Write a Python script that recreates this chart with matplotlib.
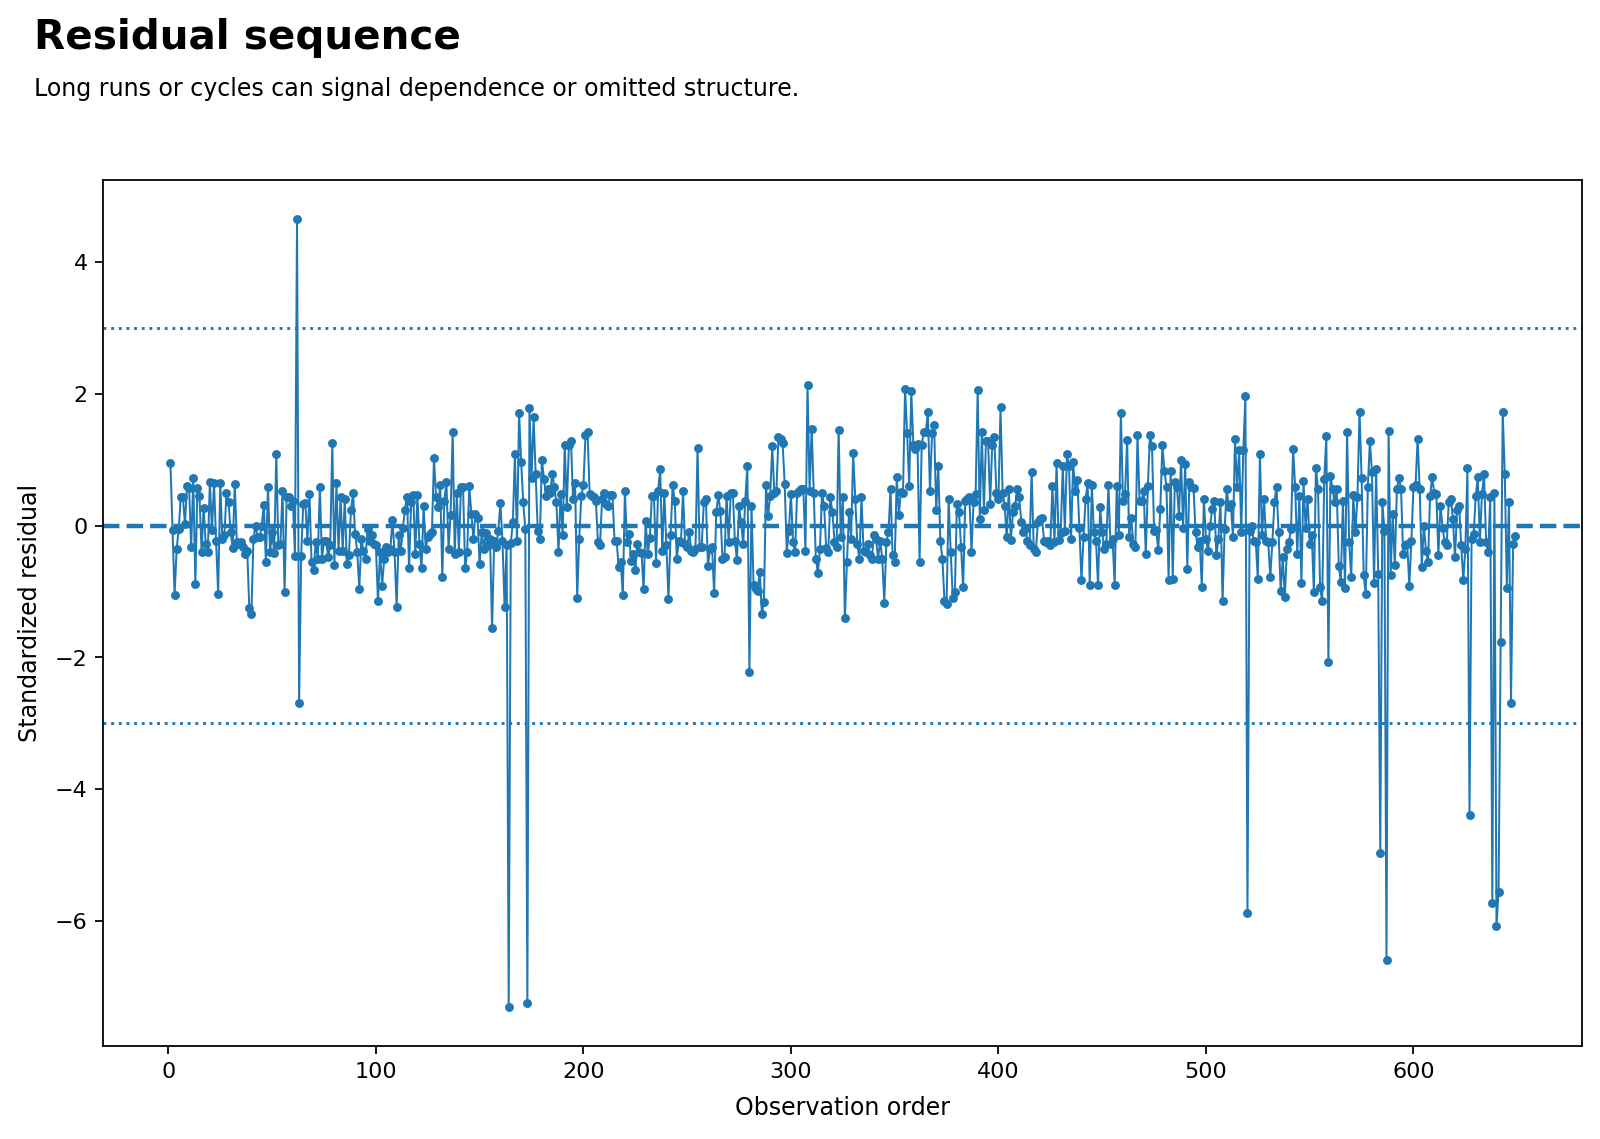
import numpy as np
import matplotlib
matplotlib.use('Agg')
import matplotlib.pyplot as plt

# standardized residuals in observation order (1..649)
resid = [
    0.95, -0.06, -1.06, -0.35, -0.05, 0.44, 0.44, 0.02, 0.6, 0.57,
    -0.33, 0.72, -0.88, 0.57, 0.45, -0.4, 0.27, -0.28, -0.4, 0.66,
    -0.07, 0.65, -0.24, -1.04, 0.65, -0.2, -0.15, 0.5, 0.36, -0.1,
    -0.34, 0.63, -0.25, -0.28, -0.25, -0.32, -0.43, -0.38, -1.25, -1.34,
    -0.2, 0.0, -0.18, -0.18, 0.0, 0.31, -0.56, 0.59, -0.4, -0.1,
    -0.41, 1.09, -0.3, -0.28, 0.52, -1.01, 0.44, 0.44, 0.3, 0.38,
    -0.46, 4.65, -2.69, -0.46, 0.33, 0.34, -0.23, 0.48, -0.56, -0.67,
    -0.25, -0.5, 0.59, -0.5, -0.23, -0.23, -0.48, -0.3, 1.25, -0.6,
    0.65, -0.39, 0.43, -0.39, 0.41, -0.58, -0.45, 0.24, 0.49, -0.13,
    -0.4, -0.96, -0.2, -0.38, -0.5, -0.05, -0.23, -0.15, -0.28, -0.3,
    -1.15, -0.4, -0.91, -0.51, -0.33, -0.4, -0.35, 0.09, -0.4, -1.23,
    -0.15, -0.39, -0.03, 0.24, 0.44, -0.65, 0.35, 0.47, -0.43, 0.46,
    -0.28, -0.65, 0.29, -0.35, -0.18, -0.13, -0.1, 1.02, 0.43, 0.28,
    0.62, -0.78, 0.38, 0.66, -0.35, 0.16, 1.42, -0.43, 0.5, -0.4,
    0.58, 0.59, -0.65, -0.4, 0.6, 0.18, -0.2, 0.18, 0.11, -0.58,
    -0.1, -0.35, -0.11, -0.3, -0.2, -1.56, -0.23, -0.33, -0.08, 0.34,
    -0.23, -1.23, -0.3, -7.3, -0.27, 0.05, 1.09, -0.23, 1.71, 0.97,
    0.35, -0.05, -7.25, 1.78, 0.72, 1.64, 0.78, -0.08, -0.2, 1.0,
    0.71, 0.45, 0.56, 0.5, 0.79, 0.58, 0.35, -0.4, 0.48, -0.15,
    1.22, 0.28, 1.22, 1.29, 0.4, 0.65, -1.1, -0.2, 0.45, 0.61,
    1.37, 1.42, 0.48, 0.45, 0.43, 0.38, -0.25, -0.3, 0.4, 0.5,
    0.33, 0.3, 0.46, 0.47, -0.23, -0.23, -0.63, -0.55, -1.06, 0.52,
    -0.25, -0.13, -0.54, -0.43, -0.68, -0.28, -0.4, -0.41, -0.97, 0.07,
    -0.43, -0.19, 0.45, 0.45, -0.57, 0.53, 0.86, -0.39, 0.5, -0.3,
    -1.12, -0.15, 0.62, 0.38, -0.5, -0.23, -0.25, 0.52, -0.28, -0.33,
    -0.1, -0.38, -0.4, -0.35, 1.17, -0.33, -0.32, 0.35, 0.41, -0.61,
    -0.36, -0.33, -1.03, 0.2, 0.46, 0.22, -0.5, -0.48, 0.45, -0.25,
    0.5, 0.5, -0.23, -0.52, 0.3, 0.05, -0.28, 0.38, 0.91, -2.22,
    0.3, -0.9, -0.96, -0.99, -0.7, -1.34, -1.16, 0.61, 0.15, 0.45,
    1.2, 0.5, 0.53, 1.34, 1.31, 1.25, 0.63, -0.41, -0.08, 0.48,
    -0.25, -0.4, 0.5, 0.52, 0.55, 0.55, -0.38, 2.14, 0.53, 1.47,
    0.5, -0.5, -0.72, -0.35, 0.5, 0.3, -0.34, -0.4, 0.43, 0.2,
    -0.25, -0.33, 1.45, -0.18, 0.43, -1.41, -0.55, 0.21, -0.2, 1.1,
    0.41, -0.28, -0.5, 0.43, -0.38, -0.4, -0.28, -0.45, -0.5, -0.14,
    -0.2, -0.5, -0.23, -0.5, -1.17, -0.25, -0.1, 0.55, -0.45, -0.56,
    0.74, 0.16, 0.51, 0.5, 2.07, 1.4, 0.6, 2.04, 1.22, 1.16,
    1.24, -0.56, 1.22, 1.42, 1.42, 1.72, 0.53, 1.4, 1.53, 0.23,
    0.9, -0.23, -0.5, -1.15, -1.19, 0.4, -0.4, -1.1, -1.01, 0.33,
    0.2, -0.33, -0.94, 0.38, 0.4, 0.43, -0.4, 0.35, 0.48, 2.06,
    0.1, 1.42, 0.23, 1.29, 1.29, 0.33, 1.22, 1.34, 0.5, 0.4,
    1.8, 0.5, 0.3, -0.18, 0.55, -0.22, 0.2, 0.3, 0.55, 0.43,
    0.06, -0.1, -0.05, -0.23, -0.3, 0.81, -0.35, -0.4, 0.05, 0.1,
    0.12, -0.24, -0.25, -0.24, -0.3, 0.6, -0.25, 0.95, -0.22, -0.11,
    0.9, -0.08, 1.08, 0.9, -0.2, 0.96, 0.52, 0.69, -0.03, -0.83,
    -0.18, 0.4, 0.65, -0.9, 0.62, -0.1, -0.23, -0.9, 0.28, -0.1,
    -0.36, -0.28, 0.62, -0.28, -0.2, -0.9, 0.6, -0.15, 1.71, 0.38,
    0.48, 1.3, -0.18, 0.12, -0.28, -0.33, 1.38, 0.38, 0.38, 0.52,
    -0.43, 0.6, 1.38, 1.2, -0.08, -0.06, -0.37, 0.25, 1.22, 0.83,
    0.58, -0.82, 0.83, -0.81, 0.66, 0.58, 0.15, 1.0, -0.03, 0.94,
    -0.66, 0.66, 0.58, 0.57, -0.1, -0.33, -0.24, -0.93, 0.4, -0.2,
    -0.38, 0.0, 0.25, 0.38, -0.45, -0.2, 0.35, -1.14, -0.05, 0.56,
    0.28, 0.33, -0.18, 1.31, 0.58, 1.14, -0.1, 1.14, 1.96, -5.88,
    -0.08, 0.0, -0.24, -0.25, -0.81, 1.09, -0.15, 0.4, -0.23, -0.25,
    -0.78, -0.25, 0.36, 0.59, -0.1, -1.0, -0.48, -1.09, -0.36, -0.25,
    -0.05, 1.16, 0.58, -0.43, 0.45, -0.87, 0.68, -0.03, 0.4, -0.28,
    -0.15, -1.01, 0.88, 0.55, -0.94, -1.15, 0.7, 1.36, -2.07, 0.75,
    0.56, 0.35, 0.56, -0.61, -0.85, 0.38, -0.95, 1.42, -0.25, -0.78,
    0.46, -0.1, 0.43, 1.73, 0.72, -0.75, -1.04, 0.59, 1.28, 0.81,
    -0.87, 0.86, -0.73, -4.97, 0.35, -0.08, -6.6, 1.44, -0.75, 0.18,
    -0.6, 0.56, 0.72, 0.56, -0.43, -0.3, -0.28, -0.92, -0.23, 0.59,
    0.61, 1.32, 0.55, -0.63, 0.0, -0.38, -0.55, 0.45, 0.73, 0.5,
    0.48, -0.44, 0.3, -0.03, -0.25, -0.3, 0.36, 0.41, 0.1, -0.48,
    0.23, 0.3, -0.3, -0.83, -0.35, 0.87, -4.4, -0.2, -0.13, 0.45,
    0.73, -0.25, 0.48, 0.78, -0.25, -0.4, 0.43, -5.73, 0.5, -6.08,
    -5.56, -1.76, 1.73, 0.78, -0.95, 0.36, -2.69, -0.28, -0.16,
]
order = np.arange(1, len(resid) + 1)
bands = [3, -3]

color = '#1f77b4'

fig, ax = plt.subplots(figsize=(10, 7.12), dpi=160)
fig.subplots_adjust(left=0.0645, right=0.989, top=0.842, bottom=0.0817)

ax.plot(order, resid, marker='o', markersize=3, linewidth=0.9, color=color)
ax.axhline(0, color=color, linestyle='--', linewidth=2)
for b in bands:
    ax.axhline(b, color=color, linestyle=':', linewidth=1.3)

ax.set_xlabel('Observation order', fontsize=10.7, labelpad=6.5)
ax.set_ylabel('Standardized residual', fontsize=10.7, labelpad=6)

fig.text(0.021, 0.957, 'Residual sequence', fontsize=18.25, fontweight='bold',
         ha='left', va='baseline')
fig.text(0.021, 0.9157, 'Long runs or cycles can signal dependence or omitted structure.',
         fontsize=10.7, ha='left', va='baseline')

plt.savefig('out.png', dpi=160, facecolor='white')
plt.close(fig)
